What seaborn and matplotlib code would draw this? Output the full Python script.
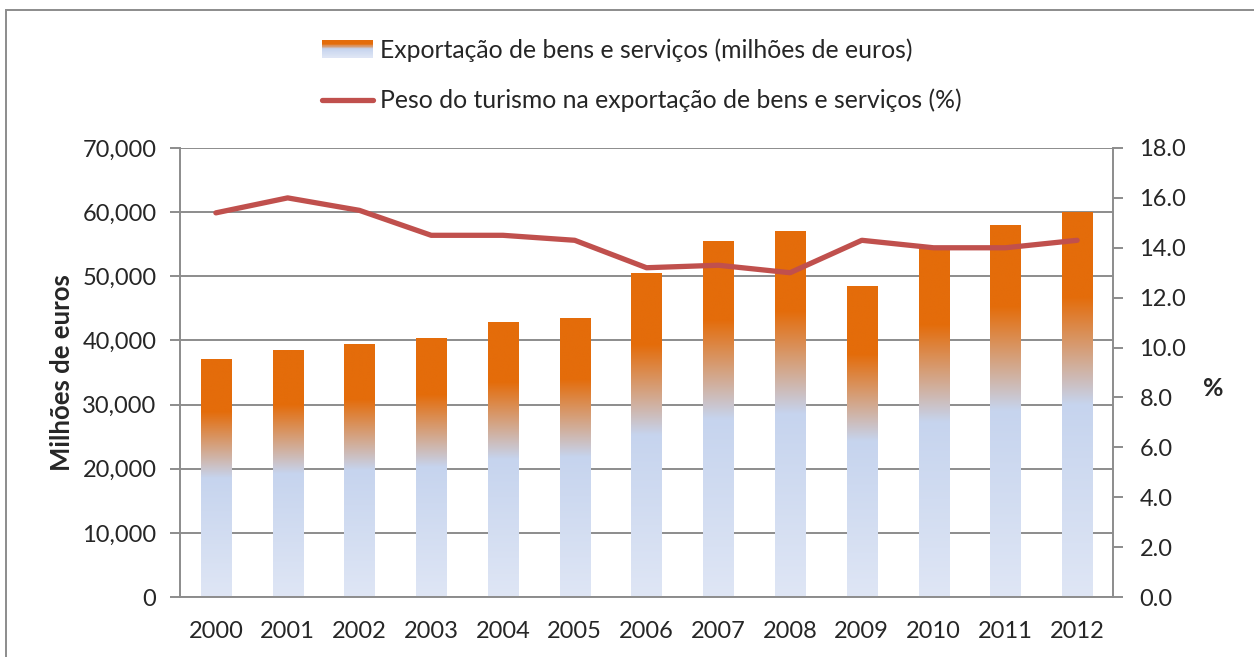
import numpy as np
import pandas as pd
import matplotlib
matplotlib.use('Agg')
import matplotlib.pyplot as plt
import seaborn as sns
from matplotlib.colors import LinearSegmentedColormap
from matplotlib.patches import Rectangle
from matplotlib.lines import Line2D
from matplotlib.legend_handler import HandlerBase
from matplotlib.ticker import FuncFormatter, MultipleLocator, FixedLocator

# values
years = ['2000', '2001', '2002', '2003', '2004', '2005', '2006',
         '2007', '2008', '2009', '2010', '2011', '2012']
exportacao = [37100, 38500, 39500, 40400, 42900, 43500, 50500,
              55500, 57100, 48500, 54500, 58000, 60000]
peso_turismo = [15.4, 16.0, 15.5, 14.5, 14.5, 14.3, 13.2,
                13.3, 13.0, 14.3, 14.0, 14.0, 14.3]

label_bar = 'Exportação de bens e serviços (milhões de euros)'
label_line = 'Peso do turismo na exportação de bens e serviços (%)'

sns.set_style('white')
plt.rcParams['font.family'] = ['Lato', 'DejaVu Sans']

orange = '#E46C0A'
red = '#C0504D'
grid_col = '#8C8C8C'
grad = LinearSegmentedColormap.from_list(
    'officegrad', [(0.0, orange), (0.22, orange), (0.5, '#C6D4EE'), (1.0, '#DFE6F5')])

data = pd.DataFrame({'Ano': years, 'Exportacao': exportacao, 'Peso': peso_turismo})
pos = np.arange(len(years))

fig = plt.figure(figsize=(12.54, 6.57), dpi=100)
ax = fig.add_axes([180 / 1254, 60 / 657, 933 / 1254, 449 / 657])

sns.barplot(data=data, x='Ano', y='Exportacao', ax=ax, color=orange, width=0.42,
            saturation=1, zorder=2)

# gradient fill inside each bar
g = np.linspace(0, 1, 256).reshape(-1, 1)
for p in ax.patches:
    x0, w, h = p.get_x(), p.get_width(), p.get_height()
    im = ax.imshow(g, extent=[x0, x0 + w, 0, h], origin='upper', aspect='auto',
                   cmap=grad, zorder=2, interpolation='bilinear')
    im.set_clip_path(p)
    p.set_facecolor('none')
    p.set_edgecolor('none')

ax.set_xlim(-0.5, len(years) - 0.5)
ax.set_ylim(0, 70000)
ax.yaxis.set_major_locator(MultipleLocator(10000))
ax.yaxis.set_major_formatter(FuncFormatter(lambda v, _: f'{int(v):,}'))
ax.set_axisbelow(True)
ax.yaxis.grid(True, color=grid_col, lw=1.4)
ax.xaxis.grid(False)

ax.xaxis.set_minor_locator(FixedLocator(np.arange(-0.5, len(years), 1.0)))
ax.tick_params(axis='x', which='major', length=0, pad=17, labelsize=17)
ax.tick_params(axis='x', which='minor', length=7, width=1.4, color=grid_col, direction='out')
ax.tick_params(axis='y', length=7, width=1.4, color=grid_col, direction='out',
               pad=10, labelsize=17, left=True)
for s in ['top', 'right']:
    ax.spines[s].set_visible(False)
for s in ['left', 'bottom']:
    ax.spines[s].set_color(grid_col)
    ax.spines[s].set_linewidth(1.4)
ax.set_xlabel('')
ax.set_ylabel('Milhões de euros', fontsize=18.5, fontweight='bold')
ax.yaxis.set_label_coords(-0.114, 0.5)

ax2 = ax.twinx()
sns.lineplot(x=pos, y=data['Peso'], ax=ax2, color=red, lw=3.8, zorder=4)
ax2.set_ylim(0, 18)
ax2.yaxis.set_major_locator(MultipleLocator(2))
ax2.yaxis.set_major_formatter(FuncFormatter(lambda v, _: f'{v:.1f}'))
ax2.tick_params(axis='y', length=7, width=1.4, color=grid_col, direction='out',
                pad=12, labelsize=17, right=True)
for s in ['top', 'left', 'bottom']:
    ax2.spines[s].set_visible(False)
ax2.spines['right'].set_color(grid_col)
ax2.spines['right'].set_linewidth(1.4)
ax2.set_ylabel('%', fontsize=18, fontweight='bold', rotation=0)
ax2.yaxis.set_label_coords(1.107, 0.49)
ax2.set_xlim(-0.5, len(years) - 0.5)


class GradientHandler(HandlerBase):
    def create_artists(self, legend, orig_handle, xdescent, ydescent, width, height,
                       fontsize, trans):
        n = 30
        arts = []
        for i in range(n):
            c = grad(1 - (i + 0.5) / n)
            arts.append(Rectangle((-xdescent, -ydescent + height * i / n), width,
                                  height / n * 1.05, facecolor=c, edgecolor='none',
                                  transform=trans))
        return arts


bar_handle = Rectangle((0, 0), 1, 1)
line_handle = Line2D([0], [0], color=red, lw=3.8)
fig.legend([bar_handle, line_handle], [label_bar, label_line], loc='upper left',
           bbox_to_anchor=(322 / 1254, 1 - 38 / 657), frameon=False, fontsize=17.8,
           handlelength=2.05, handletextpad=0.3, labelspacing=1.1, borderpad=0,
           borderaxespad=0, handler_map={Rectangle: GradientHandler()})

# outer chart frame (partly cropped in the reference)
fig.patches.append(Rectangle((6 / 1254, -0.2), 1.2, 1.2 - 10 / 657, transform=fig.transFigure,
                             fill=False, edgecolor='#8C8C8C', lw=1.4))

fig.savefig('out.png', dpi=100)
